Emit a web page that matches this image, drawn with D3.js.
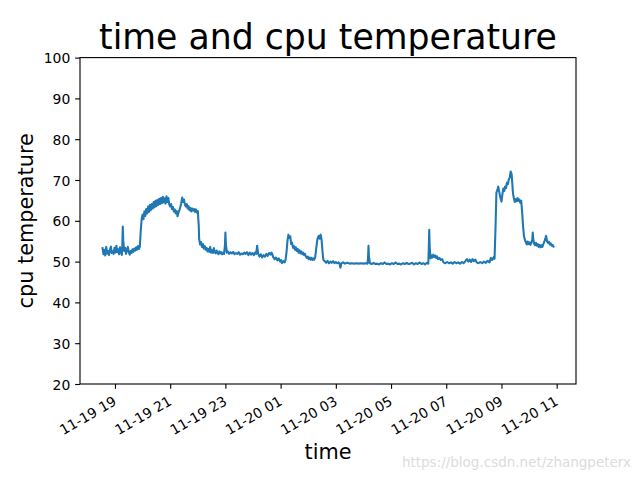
<!DOCTYPE html>
<html>
<head>
<meta charset="utf-8">
<script src="https://cdn.jsdelivr.net/npm/d3@7"></script>
<style>
  html, body { margin: 0; padding: 0; background: #fff; }
  svg { display: block; }
  text { font-family: "DejaVu Sans", sans-serif; }
</style>
</head>
<body>
<svg id="chart" width="640" height="480"></svg>
<script>
// ---- data ----
const chartTitle = "time and cpu temperature";
const xLabel = "time";
const yLabel = "cpu temperature";
const watermark = "https://blog.csdn.net/zhangpeterx";

const day1 = "11-19";
const day1Times = [
  // 18h
  "18:33","18:35","18:37","18:39","18:41","18:43","18:45","18:47","18:49","18:51","18:53","18:55","18:57","18:59",
  // 19h
  "19:01","19:03","19:05","19:07","19:09","19:11","19:13","19:15","19:16","19:17","19:18","19:20","19:22","19:24","19:26","19:28","19:30","19:32","19:34","19:36","19:38","19:40","19:42","19:44","19:46","19:48","19:50","19:52","19:54","19:56","19:58",
  // 20h
  "20:00","20:02","20:04","20:06","20:08","20:10","20:12","20:14","20:16","20:18","20:20","20:22","20:24","20:26","20:28","20:30","20:32","20:34","20:36","20:38","20:40","20:42","20:44","20:46","20:48","20:50","20:52","20:54","20:56","20:58",
  // 21h
  "21:00","21:02","21:04","21:06","21:08","21:10","21:12","21:14","21:16","21:18","21:20","21:22","21:24","21:26","21:28","21:30","21:32","21:34","21:36","21:38","21:40","21:42","21:44","21:46","21:48","21:50","21:52","21:54","21:56","21:58",
  // 22h
  "22:00","22:02","22:03","22:05","22:07","22:09","22:11","22:13","22:15","22:17","22:19","22:21","22:23","22:25","22:27","22:29","22:31","22:33","22:35","22:37","22:39","22:41","22:43","22:45","22:47","22:49","22:51","22:53","22:55","22:57","22:59",
  // 23h
  "23:00","23:01","23:03","23:05","23:08","23:11","23:14","23:17","23:20","23:23","23:26","23:29","23:32","23:35","23:38","23:41","23:44","23:47","23:50","23:53","23:56","23:59"
];
const day1Temps = [
  53.3,51.8,52.9,51.5,53.6,52.0,52.6,51.6,52.8,53.7,52.1,52.5,51.9,53.4,
  52.2,53.9,52.3,53.0,51.8,53.5,52.4,51.6,54.0,58.6,55.2,52.6,53.4,51.9,52.8,53.6,52.3,51.7,52.6,52.1,53.0,52.4,53.2,52.7,53.5,52.9,53.8,53.1,53.6,57.5,60.5,
  61.5,60.4,62.3,61.2,62.9,61.8,63.5,62.2,63.9,62.6,64.1,63.0,64.6,63.3,64.9,63.6,65.1,63.9,65.4,64.1,65.6,64.3,65.9,64.5,65.5,64.2,66.0,64.6,65.6,64.0,
  63.5,64.1,62.9,63.4,62.3,62.8,61.8,62.4,61.1,62.0,62.6,63.4,64.3,65.7,64.6,65.2,64.0,63.5,64.1,63.0,63.6,62.6,63.2,62.3,63.0,62.5,62.9,62.2,62.8,62.0,
  62.4,59.0,55.5,54.2,54.8,53.6,54.3,53.2,53.8,52.9,53.4,52.5,53.1,52.4,53.6,52.2,52.8,52.1,53.3,52.3,52.0,52.7,52.2,51.8,52.5,52.0,52.3,51.8,52.2,51.9,54.0,
  57.1,54.5,52.2,52.5,51.9,52.3,52.0,52.4,51.8,52.1,51.9,52.3,51.7,52.0,51.8,52.2,51.9,52.3,51.6,52.2,51.7,52.1
];

const day2 = "11-20";
const day2Times = [
  // 00h
  "00:02","00:05","00:07","00:09","00:11","00:14","00:17","00:20","00:23","00:26","00:29","00:32","00:35","00:38","00:40","00:42","00:44","00:47","00:50","00:53","00:56","00:59",
  // 01h
  "01:01","01:03","01:06","01:09","01:11","01:13","01:15","01:17","01:19","01:21","01:23","01:25","01:27","01:29","01:31","01:33","01:35","01:37","01:39","01:41","01:43","01:45","01:47","01:49","01:51","01:53","01:55","01:57","01:59",
  // 02h
  "02:01","02:03","02:05","02:07","02:09","02:11","02:13","02:15","02:17","02:19","02:21","02:23","02:25","02:27","02:29","02:31","02:33","02:36","02:39","02:42","02:45","02:48","02:51","02:54","02:57",
  // 03h
  "03:00","03:03","03:06","03:08","03:10","03:12","03:16","03:20","03:25","03:30","03:35","03:40","03:45","03:50","03:55",
  // 04h
  "04:00","04:05","04:09","04:10","04:11","04:12","04:14","04:18","04:22","04:26","04:30","04:34","04:38","04:42","04:46","04:50","04:54","04:58",
  // 05h
  "05:02","05:06","05:10","05:14","05:18","05:22","05:26","05:30","05:34","05:38","05:42","05:46","05:50","05:54","05:58",
  // 06h
  "06:02","06:06","06:10","06:14","06:18","06:21","06:22","06:23","06:24","06:26","06:28","06:30","06:32","06:34","06:36","06:38","06:40","06:42","06:45","06:48","06:51","06:54","06:58",
  // 07h
  "07:02","07:06","07:10","07:14","07:18","07:22","07:26","07:30","07:34","07:38","07:42","07:45","07:48","07:51","07:54","07:57",
  // 08h
  "08:00","08:03","08:06","08:10","08:14","08:18","08:22","08:26","08:30","08:34","08:37","08:40","08:43","08:45","08:47","08:49","08:51","08:53","08:55","08:57",
  // 09h
  "09:00","09:02","09:04","09:06","09:08","09:10","09:12","09:14","09:16","09:18","09:20","09:22","09:24","09:25","09:27","09:29","09:31","09:33","09:35","09:37","09:39","09:41","09:43","09:45","09:47","09:49","09:51","09:53","09:55","09:57","09:59",
  // 10h
  "10:01","10:03","10:05","10:07","10:08","10:09","10:11","10:13","10:15","10:17","10:19","10:21","10:23","10:25","10:27","10:29","10:31","10:33","10:35","10:37","10:39","10:41","10:43","10:45","10:47","10:49","10:51","10:53"
];
const day2Temps = [
  51.6,52.3,51.9,53.9,52.0,51.2,51.8,51.0,51.6,51.2,51.9,51.4,52.1,51.7,52.2,51.8,51.1,50.6,51.0,50.3,50.8,50.0,
  50.4,49.6,50.1,49.8,50.6,52.5,55.2,56.6,55.8,56.2,54.3,54.6,53.4,53.8,52.9,53.5,52.6,53.1,52.2,52.8,52.0,52.5,51.8,52.2,51.6,51.9,51.2,50.9,51.2,
  50.6,51.0,50.5,50.9,50.4,50.8,50.5,51.0,52.8,54.8,55.9,56.3,55.6,56.6,55.4,52.5,50.4,50.1,49.7,50.2,49.6,50.0,49.7,50.1,49.6,
  49.9,49.6,49.8,49.5,48.5,49.6,49.8,49.5,49.7,49.5,49.6,49.5,49.6,49.5,49.6,
  49.5,49.6,49.5,51.0,53.9,51.2,49.6,49.4,49.7,49.4,49.5,49.3,49.6,49.4,49.8,49.4,49.5,49.3,
  49.6,49.4,49.8,49.4,49.5,49.3,49.6,49.4,49.7,49.4,49.5,49.7,49.3,49.6,49.4,
  49.8,49.4,49.6,49.3,49.7,49.5,53.0,57.8,53.5,50.8,51.5,51.0,51.7,51.1,51.5,50.9,51.3,50.6,50.9,50.4,50.6,49.8,49.6,
  49.9,49.6,49.8,49.5,49.9,49.6,49.8,49.5,49.9,49.6,50.2,50.6,50.0,50.5,49.9,50.6,
  50.1,50.5,49.8,49.6,49.9,49.6,50.0,49.7,50.2,49.8,50.9,50.4,51.1,50.7,58.0,66.9,67.5,68.4,67.2,66.0,
  64.7,66.5,67.9,67.3,68.4,68.0,69.4,69.0,70.2,70.6,72.1,71.5,68.5,66.8,65.5,64.6,65.3,64.8,65.6,64.9,65.2,64.4,64.9,62.0,58.6,56.2,55.3,54.8,54.2,54.9,54.3,
  54.7,54.1,54.6,55.5,57.1,55.6,54.4,54.0,54.6,53.9,54.3,53.6,54.1,53.5,54.0,53.6,54.3,54.8,55.5,56.3,55.0,54.6,54.9,54.2,54.5,53.9,54.1,53.7
];

const xTickLabels = ["11-19 19","11-19 21","11-19 23","11-20 01","11-20 03","11-20 05","11-20 07","11-20 09","11-20 11"];
const yTicks = [20, 30, 40, 50, 60, 70, 80, 90, 100];
const yDomain = [20, 100];

(function () {
  // ---- build table ----
  const parseT = d3.timeParse("%m-%d %H:%M");
  const parseTick = d3.timeParse("%m-%d %H");
  const data = [];
  day1Times.forEach((t, i) => data.push({ t: parseT(day1 + " " + t), v: day1Temps[i] }));
  day2Times.forEach((t, i) => data.push({ t: parseT(day2 + " " + t), v: day2Temps[i] }));

  // ---- layout (matplotlib default 640x480) ----
  const W = 640, H = 480;
  const mL = 80, mR = 576, mT = 57.6, mB = 384;
  const svg = d3.select("#chart");
  svg.append("rect").attr("width", W).attr("height", H).attr("fill", "#fff");

  const ext = d3.extent(data, d => d.t);
  const span = ext[1] - ext[0];
  const x = d3.scaleTime()
    .domain([new Date(+ext[0] - span * 0.05), new Date(+ext[1] + span * 0.05)])
    .range([mL, mR]);
  const y = d3.scaleLinear().domain(yDomain).range([mB, mT]);

  // line
  const line = d3.line().x(d => x(d.t)).y(d => y(d.v));
  svg.append("path").datum(data)
    .attr("d", line)
    .attr("fill", "none")
    .attr("stroke", "#1f77b4")
    .attr("stroke-width", 2.08)
    .attr("stroke-linejoin", "round")
    .attr("stroke-linecap", "square");

  // axes
  const tickLen = 4.86, pad = 4.86;
  const xTicks = xTickLabels.map(s => parseTick(s));
  const xAxis = d3.axisBottom(x).tickValues(xTicks).tickFormat(d3.timeFormat("%m-%d %H"))
    .tickSize(tickLen).tickPadding(pad).tickSizeOuter(0);
  const gx = svg.append("g").attr("transform", `translate(0,${mB})`).call(xAxis);
  gx.select(".domain").remove();
  gx.selectAll(".tick line").attr("stroke", "#000").attr("stroke-width", 1.11);
  gx.selectAll(".tick text")
    .attr("font-size", 13.9)
    .attr("font-family", "DejaVu Sans")
    .attr("fill", "#000")
    .attr("text-anchor", "end")
    .attr("y", null).attr("dy", null)
    .attr("transform", "translate(2,20) rotate(-30)");

  const yAxis = d3.axisLeft(y).tickValues(yTicks).tickSize(tickLen).tickPadding(pad).tickSizeOuter(0);
  const gy = svg.append("g").attr("transform", `translate(${mL},0)`).call(yAxis);
  gy.select(".domain").remove();
  gy.selectAll(".tick line").attr("stroke", "#000").attr("stroke-width", 1.11);
  gy.selectAll(".tick text")
    .attr("font-size", 13.9)
    .attr("font-family", "DejaVu Sans")
    .attr("fill", "#000")
    .attr("dy", "0.36em");

  // frame (spines)
  svg.append("rect")
    .attr("x", mL).attr("y", mT)
    .attr("width", mR - mL).attr("height", mB - mT)
    .attr("fill", "none").attr("stroke", "#000").attr("stroke-width", 1.11);

  // title and labels
  svg.append("text").attr("x", (mL + mR) / 2).attr("y", 49.3)
    .attr("text-anchor", "middle").attr("font-size", 34.7).attr("fill", "#000")
    .text(chartTitle);
  svg.append("text").attr("x", (mL + mR) / 2).attr("y", 459)
    .attr("text-anchor", "middle").attr("font-size", 20.8).attr("fill", "#000")
    .text(xLabel);
  svg.append("text")
    .attr("transform", `translate(33,${(mT + mB) / 2}) rotate(-90)`)
    .attr("text-anchor", "middle").attr("font-size", 20.8).attr("fill", "#000")
    .text(yLabel);

  // watermark
  svg.append("text").attr("x", 631).attr("y", 467)
    .attr("text-anchor", "end").attr("font-size", 13.5)
    .attr("font-family", "Liberation Sans, Arial, sans-serif")
    .attr("fill", "#dcdcdc")
    .text(watermark);
})();
</script>
</body>
</html>
